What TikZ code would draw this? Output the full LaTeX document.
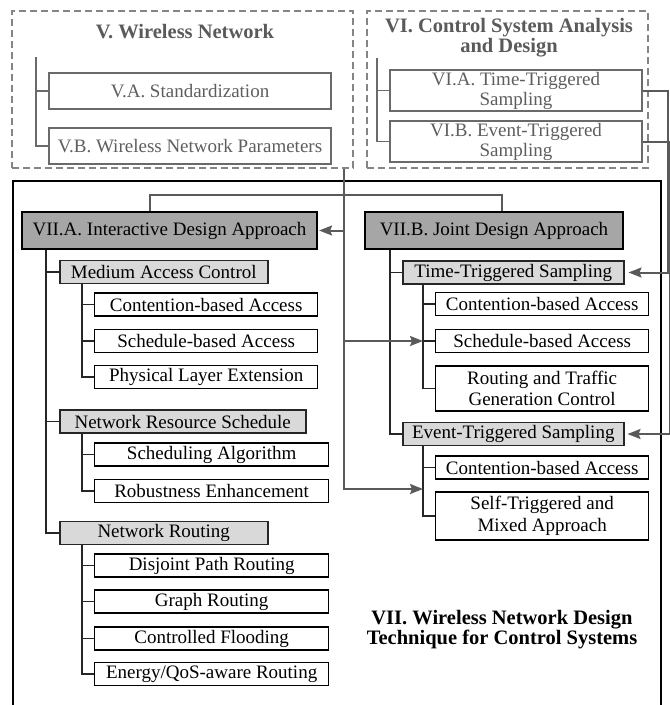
\documentclass[tikz,border=0pt]{standalone}
\usepackage{fontspec}
\setmainfont{Liberation Serif}
\usetikzlibrary{arrows.meta}

\definecolor{linegray}{HTML}{5A5A5A}
\definecolor{dashgray}{HTML}{858585}
\definecolor{boxgray}{HTML}{6A6A6A}
\definecolor{textgray}{HTML}{5E5E5E}
\definecolor{headfill}{HTML}{A6A6A6}
\definecolor{subfill}{HTML}{D9D9D9}

\tikzset{
  grp/.style={draw=dashgray, line width=1.2pt, dash pattern=on 7pt off 4pt, inner sep=0pt},
  grptitle/.style={font=\fontsize{20.5}{20}\selectfont\bfseries, align=center},
  oldbox/.style={draw=boxgray, line width=2pt, text=textgray, inner sep=0pt, align=center},
  headbox/.style={draw=black, fill=headfill, line width=2.2pt, inner sep=0pt, minimum height=37pt},
  subbox/.style={draw=black!85, fill=subfill, line width=1.5pt, inner sep=0pt, minimum height=23pt, anchor=west},
  leafbox/.style={draw=black, line width=1.3pt, inner sep=0pt, align=center, minimum height=23pt, anchor=west},
  tree/.style={line width=1.3pt, black!85},
  oldtree/.style={line width=1.4pt, boxgray},
  link/.style={line width=2pt, linegray, -{Stealth[length=13pt, width=10pt, inset=2pt]}},
}

\begin{document}
\begin{tikzpicture}[x=1pt, y=-1pt, font=\fontsize{19}{21}\selectfont]
\clip (0,0) rectangle (670,705);

% sections V and VI
\node[grp, minimum width=341pt, minimum height=157pt] (vgrp) at (182.5,89.5) {};
\node[grp, minimum width=281pt, minimum height=157pt] (vigrp) at (507.5,89.5) {};
\node[grptitle, text=linegray] (vtitle) at (185,32) {V. Wireless Network};
\node[grptitle, text=linegray] (vititle) at (509,38) {VI. Control System Analysis\\and Design};

\node[oldbox, minimum width=282pt, minimum height=36pt] (va) at (190,91) {V.A. Standardization};
\node[oldbox, minimum width=282pt, minimum height=36pt] (vb) at (190,146) {V.B. Wireless Network Parameters};
\coordinate (vtop) at (36,57);
\draw[oldtree] (vtop) |- (vb.west);
\draw[oldtree] (vtop |- va.west) -- (va.west);

\node[oldbox, minimum width=252pt, minimum height=41pt, font=\fontsize{19}{20}\selectfont] (via) at (516,90.5) {VI.A. Time-Triggered\\Sampling};
\node[oldbox, minimum width=252pt, minimum height=41pt, font=\fontsize{19}{20}\selectfont] (vib) at (516,141.5) {VI.B. Event-Triggered\\Sampling};
\coordinate (vitop) at (377,58);
\draw[oldtree] (vitop) |- (vib.west);
\draw[oldtree] (vitop |- via.west) -- (via.west);

% section VII
\node[draw, line width=2.6pt, inner sep=0pt, minimum width=648pt, minimum height=540pt] (main) at (337,451) {};
\node[grptitle] (viititle) at (502,630) {VII. Wireless Network Design\\Technique for Control Systems};

\node[headbox, minimum width=295pt] (viia) at (169.5,230.5) {VII.A. Interactive Design Approach};
\node[headbox, minimum width=258pt] (viib) at (494,230.5) {VII.B. Joint Design Approach};
\draw[line width=1.5pt, linegray] ([xshift=-19.5pt]viia.north) |- ([xshift=8pt, yshift=16pt]viib.north) -- ([xshift=8pt]viib.north);

% interactive design
\node[subbox, minimum width=208pt] (mac) at (59,272) {Medium Access Control};
\node[leafbox, minimum width=223pt] (cbaa) at (94,304.5) {Contention-based Access};
\node[leafbox, minimum width=223pt] (sbaa) at (94,341) {Schedule-based Access};
\node[leafbox, minimum width=223pt] (ple) at (94,377) {Physical Layer Extension};
\node[subbox, minimum width=246pt] (nrs) at (59,421.5) {Network Resource Schedule};
\node[leafbox, minimum width=234pt] (sa) at (94,454.5) {Scheduling Algorithm};
\node[leafbox, minimum width=234pt] (re) at (94,491) {Robustness Enhancement};
\node[subbox, minimum width=208pt] (nr) at (59,533) {Network Routing};
\node[leafbox, minimum width=234pt] (dpr) at (94,565.5) {Disjoint Path Routing};
\node[leafbox, minimum width=234pt] (gr) at (94,601.5) {Graph Routing};
\node[leafbox, minimum width=234pt] (cf) at (94,638.5) {Controlled Flooding};
\node[leafbox, minimum width=234pt] (eq) at (94,674) {Energy/QoS-aware Routing};

\path ([xshift=25pt]viia.south west) coordinate (atrunk);
\draw[tree] (atrunk) |- (nr.west);
\draw[tree] (atrunk |- mac.west) -- (mac.west);
\draw[tree] (atrunk |- nrs.west) -- (nrs.west);
\path ([xshift=23pt]mac.south west) coordinate (mtrunk);
\draw[tree] (mtrunk) |- (ple.west);
\draw[tree] (mtrunk |- cbaa.west) -- (cbaa.west);
\draw[tree] (mtrunk |- sbaa.west) -- (sbaa.west);
\path ([xshift=23pt]nrs.south west) coordinate (strunk);
\draw[tree] (strunk) |- (re.west);
\draw[tree] (strunk |- sa.west) -- (sa.west);
\path ([xshift=23pt]nr.south west) coordinate (rtrunk);
\draw[tree] (rtrunk) |- (eq.west);
\draw[tree] (rtrunk |- dpr.west) -- (dpr.west);
\draw[tree] (rtrunk |- gr.west) -- (gr.west);
\draw[tree] (rtrunk |- cf.west) -- (cf.west);

% joint design
\node[subbox, minimum width=221pt] (tts) at (402,272.5) {Time-Triggered Sampling};
\node[leafbox, minimum width=213pt] (cbab) at (435,304) {Contention-based Access};
\node[leafbox, minimum width=213pt] (sbab) at (435,341) {Schedule-based Access};
\node[leafbox, minimum width=213pt, minimum height=45pt] (rtg) at (435,388.5) {Routing and Traffic\\Generation Control};
\node[subbox, minimum width=221pt] (ets) at (402,434) {Event-Triggered Sampling};
\node[leafbox, minimum width=213pt] (cbac) at (435,467.5) {Contention-based Access};
\node[leafbox, minimum width=213pt, minimum height=48pt, font=\fontsize{19}{22}\selectfont] (stm) at (435,516) {Self-Triggered and\\Mixed Approach};

\path ([xshift=26pt]viib.south west) coordinate (btrunk);
\draw[tree] (btrunk) |- (ets.west);
\draw[tree] (btrunk |- tts.west) -- (tts.west);
\path ([xshift=21pt]tts.south west) coordinate (ttrunk);
\draw[tree] (ttrunk) |- (rtg.west);
\draw[tree] (ttrunk |- cbab.west) -- (cbab.west);
\draw[tree] (ttrunk |- sbab.west) -- (sbab.west);
\path ([xshift=21pt]ets.south west) coordinate (etrunk);
\draw[tree] (etrunk) |- (stm.west);
\draw[tree] (etrunk |- cbac.west) -- (cbac.west);

% links from V and VI
\path ([xshift=-10pt]vgrp.south east) coordinate (vdrop);
\draw[link] (vdrop) |- ([yshift=27pt]etrunk |- stm.west);
\draw[link] (vdrop |- viia.east) -- ([xshift=1pt]viia.east);
\draw[link] (vdrop |- sbab.west) -- (ttrunk |- sbab.west);
\draw[link] (via.east) -- ++(25,0) |- ([xshift=4pt]tts.east);
\draw[link] (vib.east) -- ++(27,0) |- ([xshift=3pt]ets.east);
\end{tikzpicture}
\end{document}
